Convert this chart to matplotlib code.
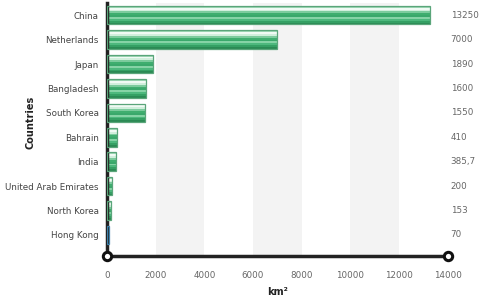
import numpy as np
from matplotlib import pyplot as plt

countries = ['China', 'Netherlands', 'Japan', 'Bangladesh', 'South Korea',
             'Bahrain', 'India', 'United Arab Emirates', 'North Korea', 'Hong Kong']
area = [13250, 7000, 1890, 1600, 1550, 410, 385.7, 200, 153, 70]
area_labels = ['13250', '7000', '1890', '1600', '1550', '410', '385,7', '200', '153', '70']
x_ticks = [0, 2000, 4000, 6000, 8000, 10000, 12000, 14000]

# vertical gradient of each bar, top to bottom
green_shades = ['#9fd8b6', '#f0faf4', '#d0efdc', '#7ccb9d', '#3fae6f',
                '#3aa86b', '#86d3a6', '#4db87d', '#35a064', '#2a8a54']
blue_shades = ['#a3c8e4', '#eef5fb', '#cfe2f1', '#7eb2d8', '#4189bc',
               '#3d84b6', '#88bade', '#5397c7', '#3a7fb0', '#2d6a96']

fig = plt.figure(figsize=(4.82, 2.98), dpi=100)
ax = fig.add_axes([0.222, 0.141, 0.707, 0.849])

y = np.arange(len(countries))[::-1]
bar_h = 0.76

# alternating background bands
for x0 in x_ticks[1:-1:2]:
    ax.axvspan(x0, x0 + 2000, color='#f3f3f3', zorder=0, lw=0)

for i in range(len(countries)):
    blue = countries[i] == 'Hong Kong'
    shades = blue_shades if blue else green_shades
    n = len(shades)
    sh = bar_h / n
    for k, c in enumerate(shades):
        top = y[i] + bar_h / 2 - k * sh
        ax.barh(top - sh / 2, area[i], height=sh * 1.05, color=c, lw=0, zorder=2)
    ax.barh(y[i], area[i], height=bar_h, fill=False,
            edgecolor='#3d7fa8' if blue else '#5aa57a', lw=0.9, zorder=3)
    ax.text(14120, y[i], area_labels[i], va='center', ha='left',
            fontsize=6.3, color='#666666', clip_on=False)

ax.set_xlim(0, 14000)
ax.set_ylim(-0.86, 9.5)
ax.set_yticks(y)
ax.set_yticklabels(countries, fontsize=6.3, color='#444444')
ax.set_xticks(x_ticks)
ax.set_xticklabels([str(t) for t in x_ticks], fontsize=6.3, color='#666666')
ax.tick_params(axis='x', length=0, pad=11)
ax.tick_params(axis='y', length=0, pad=6)

for s in ['top', 'right']:
    ax.spines[s].set_visible(False)
ax.spines['left'].set_linewidth(2.5)
ax.spines['left'].set_color('#222222')
ax.spines['bottom'].set_linewidth(2.5)
ax.spines['bottom'].set_color('#222222')

ax.plot([0, 14000], [-0.86, -0.86], 'o', ms=6, mfc='white', mec='#111111',
        mew=2.2, clip_on=False, zorder=5)

ax.set_xlabel('km²', fontsize=7, fontweight='bold', color='#222222', labelpad=5)
ax.set_ylabel('Countries', fontsize=7, fontweight='bold', color='#222222')
ax.yaxis.set_label_coords(-0.21, 0.53)

fig.savefig('out.png', dpi=100)
